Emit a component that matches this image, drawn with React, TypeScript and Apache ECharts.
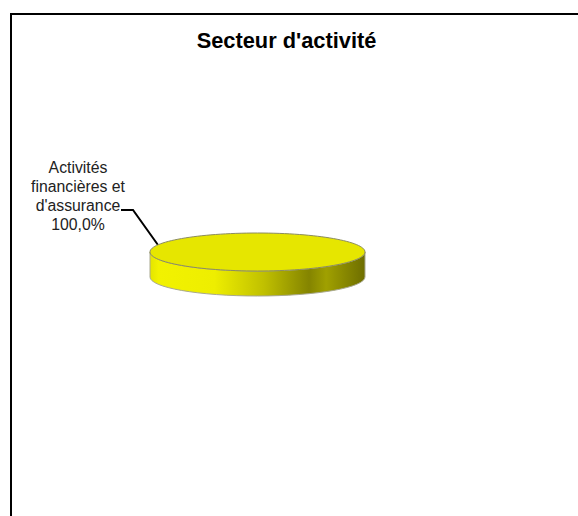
import React, { useEffect, useRef } from "react";
import * as echarts from "echarts";

const titleText = "Secteur d'activité";
const categories = ["Activités\nfinancières et\nd'assurance"];
const values = [100];
const valueLabels = ["100,0%"];

const FONT = "'Liberation Sans', Arial, sans-serif";

export default function App() {
  const ref = useRef<HTMLDivElement>(null);
  useEffect(() => {
    document.body.style.margin = "0";
    const chart = echarts.init(ref.current!, null, { renderer: "svg" });
    const total = values.reduce((a, b) => a + b, 0);
    chart.setOption({
      animation: false,
      backgroundColor: "#ffffff",
      title: {
        text: titleText,
        left: 281.5,
        top: 24,
        textAlign: "center",
        textStyle: { fontFamily: FONT, fontSize: 21.8, fontWeight: "bold", color: "#000" },
      },
      graphic: [
        {
          type: "polyline",
          shape: { points: [[11, 516], [11, 14], [578, 14]] },
          style: { stroke: "#000", lineWidth: 2, fill: "none" },
        },
      ],
      series: [
        {
          type: "custom",
          coordinateSystem: "none",
          data: values.map((v, i) => ({ value: [v], name: categories[i] })),
          renderItem: (params: any, api: any) => {
            const share = api.value(0) / total;
            const cx = 257.5, cy = 252, rx = 107.5, ry = 19, depth = 25;
            const d =
              `M0 0 L0 ${depth} A${rx} ${ry} 0 0 0 ${2 * rx} ${depth} L${2 * rx} 0 ` +
              `A${rx} ${ry} 0 0 1 0 0 Z`;
            const side = {
              type: "path",
              shape: { pathData: d, x: cx - rx, y: cy, width: 2 * rx, height: depth + ry },
              layout: "cover",
              style: {
                fill: new echarts.graphic.LinearGradient(0, 0, 1, 0, [
                  { offset: 0, color: "#e4e400" },
                  { offset: 0.04, color: "#f2f200" },
                  { offset: 0.3, color: "#eeee00" },
                  { offset: 0.53, color: "#c0c000" },
                  { offset: 0.74, color: "#848400" },
                  { offset: 0.82, color: "#a0a000" },
                  { offset: 0.92, color: "#848400" },
                  { offset: 1, color: "#6e6e00" },
                ]),
                stroke: "#a8a890",
                lineWidth: 1,
              },
            };
            const top = {
              type: "ellipse",
              shape: { cx, cy, rx: rx * Math.sqrt(share), ry: ry * Math.sqrt(share) },
              style: { fill: "#e6e600", stroke: "#8c8c60", lineWidth: 1 },
            };
            const label = {
              type: "text",
              x: 78,
              y: 196,
              style: {
                text: categories[params.dataIndex] + "\n" + valueLabels[params.dataIndex],
                font: `15.8px ${FONT}`,
                fill: "#222",
                align: "center",
                verticalAlign: "middle",
                lineHeight: 18.7,
              },
            };
            const leader = {
              type: "polyline",
              shape: { points: [[121, 210], [133, 210], [158, 245]] },
              style: { stroke: "#000", lineWidth: 2, fill: "none" },
            };
            return { type: "group", children: [side, leader, top, label] };
          },
        },
      ],
    });
    return () => chart.dispose();
  }, []);
  return <div ref={ref} style={{ width: 578, height: 516 }} />;
}
